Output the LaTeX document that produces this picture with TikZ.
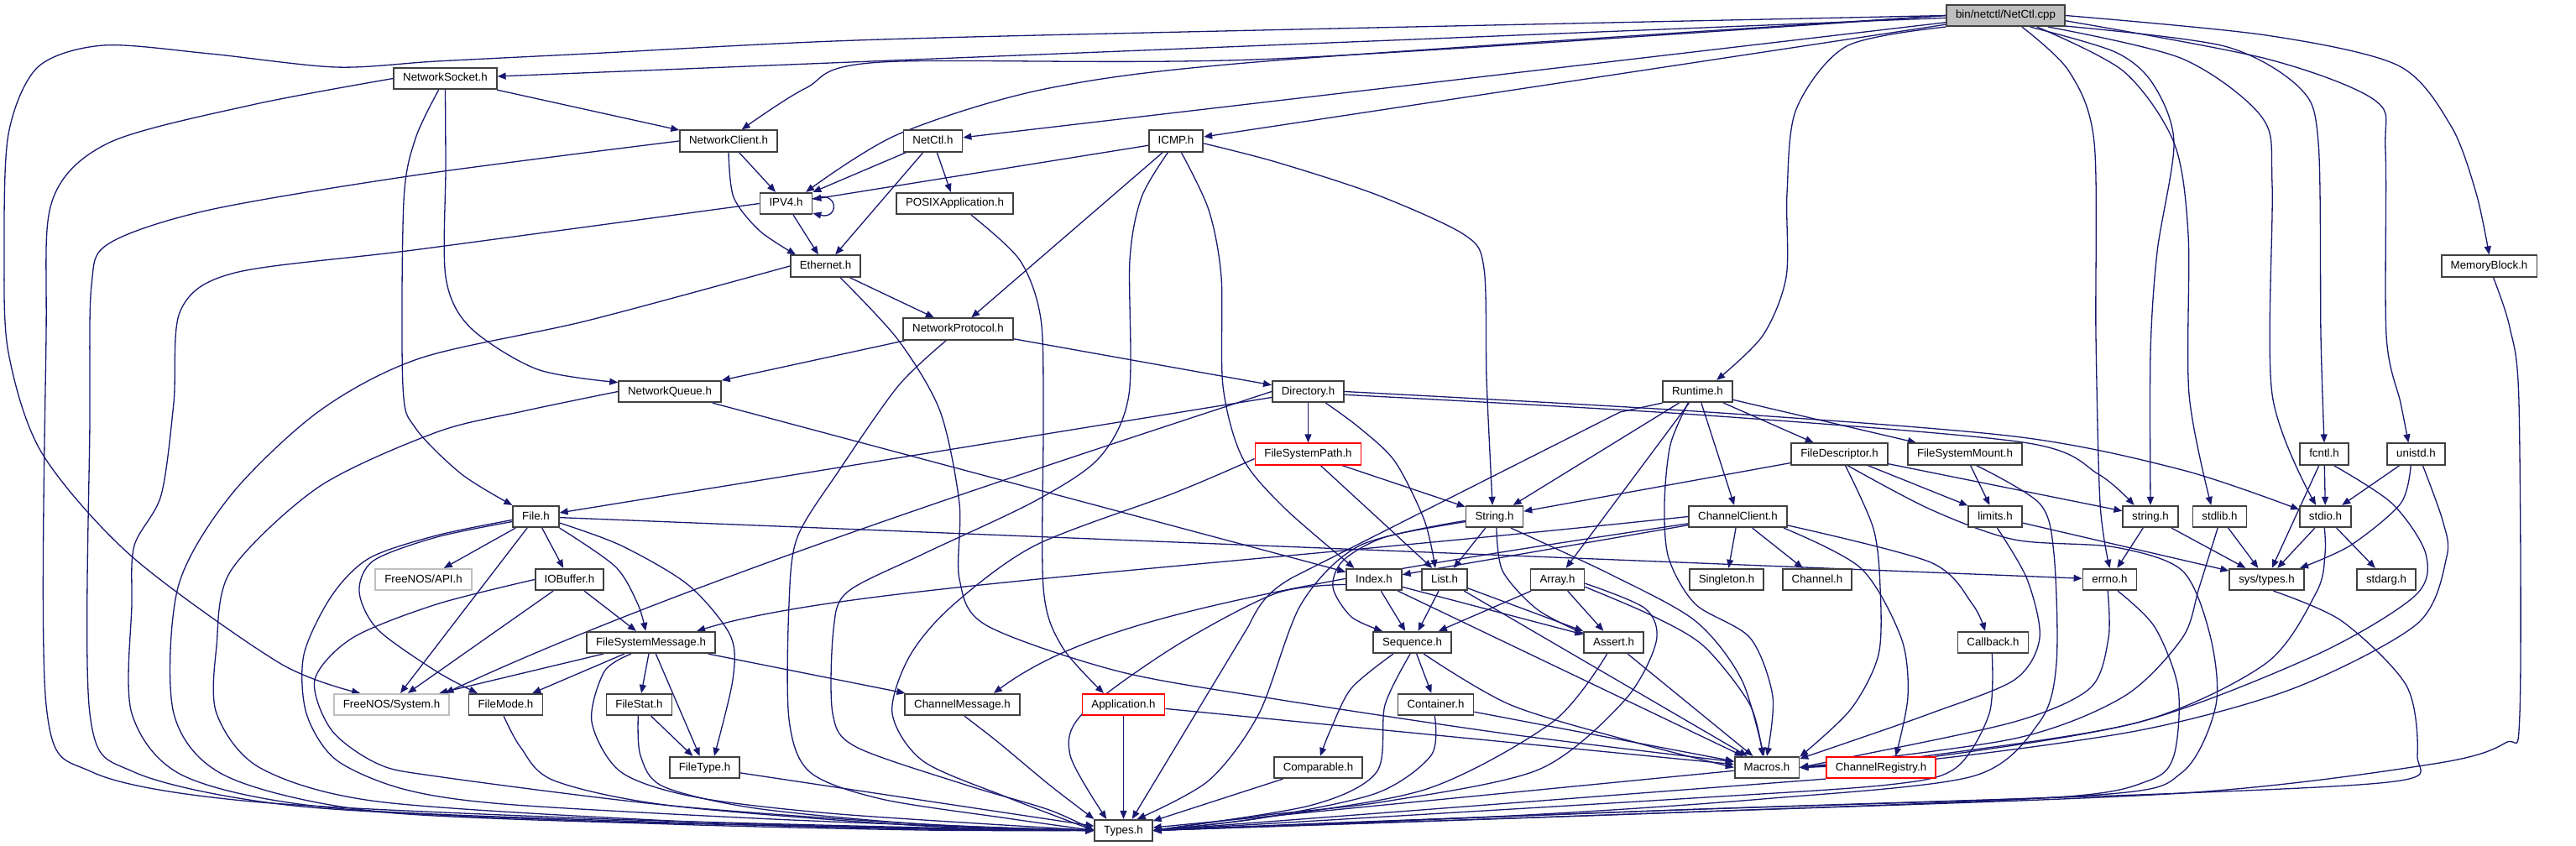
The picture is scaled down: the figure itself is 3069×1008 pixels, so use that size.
\documentclass[tikz,border=0pt]{standalone}
\usepackage{fontspec}
\setmainfont{Liberation Sans}
\usetikzlibrary{arrows.meta,backgrounds}
\definecolor{edgeblue}{HTML}{191970}
\definecolor{boxborder}{HTML}{404040}
\definecolor{grayfill}{HTML}{BFBFBF}
\definecolor{lightborder}{HTML}{BFBFBF}
\definecolor{redborder}{HTML}{FF0000}
\tikzset{
  filebox/.style={draw=boxborder, line width=1.7pt, fill=white, inner xsep=11pt, inner ysep=0pt,
    minimum height=25.5pt, text height=9.8pt, text depth=2.8pt, font=\fontsize{13.3}{16}\selectfont},
  redbox/.style={filebox, draw=redborder},
  greybox/.style={filebox, draw=lightborder},
  dep/.style={draw=edgeblue, line width=1.3pt, -{Triangle[length=10pt,width=8pt]}}
}
\newcommand{\plotedge}[1]{\draw[dep] plot[smooth,tension=0.5] coordinates {#1};}
\begin{document}
\begin{tikzpicture}[x=1pt,y=-1pt]
\path[use as bounding box] (0,0) rectangle (3069,1008);
% nodes
\node[filebox,fill=grayfill] (root) at (2389.5,18.5) {bin/netctl/NetCtl.cpp};
\node[filebox] (NS) at (530.5,93.5) {NetworkSocket.h};
\node[filebox] (NC) at (868,168) {NetworkClient.h};
\node[filebox] (IPV4) at (936.5,242.5) {IPV4.h};
\node[filebox] (Eth) at (983.5,317) {Ethernet.h};
\node[filebox] (NQ) at (798,466.5) {NetworkQueue.h};
\node[filebox] (NetCtlH) at (1111.5,168) {NetCtl.h};
\node[filebox] (POSIX) at (1137.5,242.5) {POSIXApplication.h};
\node[filebox] (ICMP) at (1401,168) {ICMP.h};
\node[filebox] (NP) at (1141.5,392) {NetworkProtocol.h};
\node[filebox] (Dir) at (1558.5,466.5) {Directory.h};
\node[filebox] (Runtime) at (2022.5,466.5) {Runtime.h};
\node[filebox] (MemBlock) at (2965.5,317) {MemoryBlock.h};
\node[redbox] (FSPath) at (1558.5,541) {FileSystemPath.h};
\node[filebox] (FD) at (2191.5,541) {FileDescriptor.h};
\node[filebox] (FSMount) at (2341,541) {FileSystemMount.h};
\node[filebox] (fcntl) at (2769,541) {fcntl.h};
\node[filebox] (unistd) at (2878.5,541) {unistd.h};
\node[filebox] (File) at (638.5,615.5) {File.h};
\node[filebox] (String) at (1780.5,615.5) {String.h};
\node[filebox] (CC) at (2070.5,615.5) {ChannelClient.h};
\node[filebox] (limits) at (2377,615.5) {limits.h};
\node[filebox] (stringh) at (2562,615.5) {string.h};
\node[filebox] (stdlib) at (2644.5,615.5) {stdlib.h};
\node[filebox] (stdio) at (2770.5,615.5) {stdio.h};
\node[greybox] (API) at (504.5,690.5) {FreeNOS/API.h};
\node[filebox] (IOBuffer) at (678.5,690.5) {IOBuffer.h};
\node[filebox] (Index) at (1637,690.5) {Index.h};
\node[filebox] (List) at (1721,690.5) {List.h};
\node[filebox] (Array) at (1855.5,690.5) {Array.h};
\node[filebox] (Singleton) at (2057,690.5) {Singleton.h};
\node[filebox] (Channel) at (2165,690.5) {Channel.h};
\node[filebox] (errno) at (2513.5,690.5) {errno.h};
\node[filebox] (systypes) at (2700.5,690.5) {sys/types.h};
\node[filebox] (stdarg) at (2843,690.5) {stdarg.h};
\node[filebox] (FSM) at (775.5,765.5) {FileSystemMessage.h};
\node[filebox] (Sequence) at (1682.5,765.5) {Sequence.h};
\node[filebox] (Assert) at (1922.5,765.5) {Assert.h};
\node[filebox] (Callback) at (2374.5,765.5) {Callback.h};
\node[greybox] (System) at (466.5,839.5) {FreeNOS/System.h};
\node[filebox] (FileMode) at (602.5,839.5) {FileMode.h};
\node[filebox] (FileStat) at (761.5,839.5) {FileStat.h};
\node[filebox] (ChannelMessage) at (1146.5,839.5) {ChannelMessage.h};
\node[redbox] (Application) at (1338.5,839.5) {Application.h};
\node[filebox] (Container) at (1710.5,839.5) {Container.h};
\node[filebox] (FileType) at (839.5,914.5) {FileType.h};
\node[filebox] (Comparable) at (1570.5,914.5) {Comparable.h};
\node[filebox] (Macros) at (2105,914.5) {Macros.h};
\node[redbox] (ChannelRegistry) at (2241,914.5) {ChannelRegistry.h};
\node[filebox] (Types) at (1338.5,989.5) {Types.h};
\begin{scope}[on background layer]
\fill[white] (0,0) rectangle (3069,1008);
% root
\draw[dep] (root) -- (NS);
\plotedge{(root.west) (1500,36) (1020,48) (700,64) (520,73) (400,80) (250,64) (123,54) (45,80) (10,160) (5,300) (10,420) (50,540) (157,663) (333,790) (System.160)}
\plotedge{(root.west) (1520,70) (1050,74) (960,105) (NC.41)}
\plotedge{(root.west) (1520,72) (1250,105) (1070,160) (IPV4.30)}
\draw[dep] (root) -- (NetCtlH);
\draw[dep] (root) -- (ICMP);
\plotedge{(root.south west) (2200,55) (2140,130) (2129,230) (2128,330) (2100,400) (Runtime.31)}
\plotedge{(root.-35) (2465,85) (2495,170) (2497,400) (2502,600) (errno.north)}
\plotedge{(root.-25) (2520,62) (2565,100) (2590,170) (2570,300) (2562,420) (stringh.north)}
\plotedge{(root.-20) (2530,85) (2590,170) (2607,280) (2608,470) (stdlib.127)}
\plotedge{(root.-15) (2600,70) (2695,140) (2707,220) (2707,470) (stdio.130)}
\plotedge{(root.-10) (2650,55) (2740,105) (2762,170) (2765,400) (fcntl.north)}
\plotedge{(root.-5) (2700,70) (2830,120) (2842,180) (2843,400) (2860,480) (unistd.124)}
\plotedge{(root.east) (2700,42) (2857,78) (2920,150) (2950,230) (MemBlock.north)}
% NetworkSocket
\draw[dep] (NS) -- (NC);
\plotedge{(NS.west) (300,125) (130,170) (62,240) (55,400) (55,840) (110,920) (300,955) (700,975) (1100,986) (Types.west)}
\plotedge{(NS.-120) (495,165) (481,240) (480,460) (495,510) (550,565) (File.north west)}
\plotedge{(NS.south) (531,200) (531,330) (560,390) (640,440) (NQ.170)}
% NetworkClient
\draw[dep] (NC) -- (IPV4);
\plotedge{(NC.south) (874,235) (905,275) (Eth.159)}
\plotedge{(NC.west) (500,208) (250,250) (130,290) (109,340) (107,500) (107,850) (160,920) (350,960) (700,978) (1100,987) (Types.west)}
% IPV4
\draw[dep] (IPV4.10) .. controls (1000,225) and (1000,262) .. (IPV4.-20);
\draw[dep] (IPV4) -- (Eth);
\plotedge{(IPV4.west) (500,297) (280,325) (215,370) (207,480) (192,590) (160,650) (157,720) (157,850) (220,925) (400,963) (800,980) (1100,988) (Types.west)}
% Ethernet
\draw[dep] (Eth) -- (NP);
\plotedge{(Eth.-38) (1070,405) (1120,490) (1143,600) (1143,690) (1175,745) (1333,800) (1520,833) (1800,875) (Macros.170)}
\plotedge{(Eth.west) (700,382) (500,427) (380,490) (275,590) (212,700) (207,850) (270,925) (450,967) (800,982) (1100,989) (Types.west)}
% NetCtl.h
\draw[dep] (NetCtlH) -- (IPV4);
\draw[dep] (NetCtlH) -- (Eth);
\draw[dep] (NetCtlH) -- (POSIX);
\plotedge{(POSIX.-35) (1215,310) (1240,380) (1243,500) (1243,700) (1265,770) (Application.150)}
% ICMP
\draw[dep] (ICMP) -- (IPV4);
\draw[dep] (ICMP) -- (NP);
\plotedge{(ICMP.-125) (1360,235) (1346,310) (1345,470) (1310,545) (1233,597) (1100,660) (1010,705) (993,750) (992,850) (1020,890) (1150,935) (1250,965) (Types.west)}
\plotedge{(ICMP.-65) (1440,250) (1455,330) (1457,460) (1480,545) (1530,605) (Index.150)}
\plotedge{(ICMP.-5) (1520,193) (1640,232) (1745,280) (1768,320) (1771,450) (1776,560) (String.100)}
% NetworkProtocol
\draw[dep] (NP) -- (NQ);
\draw[dep] (NP) -- (Dir);
\plotedge{(NP.-136) (1070,460) (1000,560) (950,640) (940,720) (940,857) (965,920) (1050,952) (1200,975) (Types.west)}
% NetworkQueue
\draw[dep] (NQ) -- (Index);
\plotedge{(NQ.west) (623,490) (520,515) (380,580) (275,680) (258,770) (258,850) (310,915) (450,955) (800,978) (1100,987) (Types.west)}
% Directory
\draw[dep] (Dir) -- (File);
\draw[dep] (Dir.west) .. controls (1200,570) and (800,700) .. (System.12);
\draw[dep] (Dir) -- (FSPath);
\plotedge{(Dir.-33) (1620,510) (1662,550) (1697,620) (List.129)}
\plotedge{(Dir.east) (2020,490) (2400,520) (2600,560) (stdio.165)}
\plotedge{(Dir.-5) (2020,494) (2410,527) (2500,565) (stringh.145)}
% Runtime
\draw[dep] (Runtime) -- (String);
\draw[dep] (Runtime) -- (Array);
\draw[dep] (Runtime) -- (CC);
\draw[dep] (Runtime) -- (FD);
\draw[dep] (Runtime) -- (FSMount);
\plotedge{(Runtime.-130) (1990,530) (1983,600) (1988,665) (2020,720) (2085,760) (2112,830) (Macros.north)}
\draw[dep] (Runtime.-162) -- (1930,491) -- (1540,688) .. controls (1510,705) and (1500,720) .. (1488,745) -- (Types.53);
% FileDescriptor
\draw[dep] (FD) -- (String);
\plotedge{(FD.-63) (2232,630) (2240,700) (2238,780) (2205,845) (Macros.18)}
\draw[dep] (FD) -- (limits);
\draw[dep] (FD) -- (stringh);
\plotedge{(FD.-55) (2300,607) (2400,643) (2520,652) (2600,680) (2633,757) (2640,840) (2600,920) (2500,947) (2000,965) (1600,980) (Types.east)}
% FileSystemMount
\draw[dep] (FSMount) -- (limits);
\plotedge{(FSMount.-45) (2430,600) (2447,660) (2450,790) (2430,860) (2350,925) (2100,952) (1800,972) (Types.east)}
% limits
\plotedge{(limits.-80) (2415,690) (2430,760) (2400,810) (2300,850) (2200,885) (Macros.15)}
\draw[dep] (limits) -- (systypes);
% ChannelClient
\draw[dep] (CC) -- (Singleton);
\draw[dep] (CC) -- (Channel);
\plotedge{(CC.-10) (2300,670) (2350,720) (Callback.125)}
\plotedge{(CC.-14) (2217,677) (2265,760) (2273,830) (ChannelRegistry.38)}
\draw[dep] (CC) -- (Index);
\draw[dep] (CC.west) .. controls (1400,680) and (1000,700) .. (FSM.14);
\draw[dep] (CC.-172) .. controls (1500,700) and (1300,740) .. (ChannelMessage.20);
% String
\draw[dep] (String) -- (List);
\plotedge{(String.-170) (1650,640) (1600,668) (1588,700) (1610,735) (Sequence.159)}
\plotedge{(String.-80) (1790,680) (1830,725) (1880,752) (Assert.north west)}
\plotedge{(String.-35) (1920,685) (2020,740) (2075,810) (Macros.105)}
\plotedge{(String.-172) (1620,650) (1550,720) (1500,850) (1440,930) (Types.40)}
% Index
\draw[dep] (Index) -- (Sequence);
\draw[dep] (Index) -- (Assert);
\draw[dep] (Index) -- (Macros);
\plotedge{(Index.-170) (1520,707) (1400,770) (1290,850) (1275,900) (Types.146)}
% List
\draw[dep] (List) -- (Sequence);
\draw[dep] (List) -- (Assert);
\draw[dep] (List) -- (Macros);
% Array
\draw[dep] (Array) -- (Sequence);
\draw[dep] (Array) -- (Assert);
\plotedge{(Array.-15) (1967,733) (2030,770) (2085,840) (Macros.110)}
\plotedge{(Array.-8) (1960,725) (1973,765) (1935,835) (1833,917) (1650,955) (1500,972) (Types.east)}
% Sequence
\plotedge{(Sequence.-149) (1610,820) (1585,870) (Comparable.80)}
\draw[dep] (Sequence) -- (Container);
\plotedge{(Sequence.-45) (1800,840) (1950,885) (Macros.west)}
\plotedge{(Sequence.-100) (1650,840) (1640,920) (1560,960) (Types.east)}
% Assert
\draw[dep] (Assert) -- (Macros);
\plotedge{(Assert.-120) (1850,860) (1700,940) (1500,975) (Types.east)}
% Container
\draw[dep] (Container) -- (Macros);
\plotedge{(Container.-95) (1705,900) (1640,945) (1500,975) (Types.east)}
\draw[dep] (Comparable) -- (Types);
% File
\draw[dep] (File) -- (API);
\draw[dep] (File) -- (IOBuffer);
\plotedge{(File.south east) (733,675) (760,720) (FSM.115)}
\plotedge{(File.-15) (740,650) (820,697) (870,757) (873,810) (FileType.50)}
\plotedge{(File.-168) (520,640) (445,668) (428,705) (450,750) (520,800) (FileMode.158)}
\draw[dep] (File) -- (System);
\plotedge{(File.-172) (520,638) (440,665) (395,710) (362,780) (365,850) (400,905) (480,940) (600,958) (900,975) (1150,985) (Types.west)}
\draw[dep] (File) -- (errno);
% IOBuffer
\draw[dep] (IOBuffer) -- (FSM);
\draw[dep] (IOBuffer) -- (System);
\plotedge{(IOBuffer.west) (520,720) (420,760) (375,810) (395,870) (450,910) (520,925) (800,960) (1100,982) (Types.west)}
% FileSystemMessage
\draw[dep] (FSM) -- (System);
\draw[dep] (FSM) -- (FileMode);
\draw[dep] (FSM) -- (FileStat);
\draw[dep] (FSM) -- (FileType);
\plotedge{(FSM.-150) (720,800) (705,860) (740,920) (830,950) (1000,970) (Types.west)}
\draw[dep] (FSM) -- (ChannelMessage);
% FileStat, FileMode, FileType
\draw[dep] (FileStat) -- (FileType);
\plotedge{(FileStat.-95) (763,900) (790,937) (900,963) (1100,982) (Types.west)}
\plotedge{(FileMode.-100) (620,890) (660,930) (800,960) (1100,984) (Types.west)}
\draw[dep] (FileType) -- (Types);
% FileSystemPath
\draw[dep] (FSPath) -- (String);
\draw[dep] (FSPath) -- (List);
\plotedge{(FSPath.-175) (1400,587) (1233,650) (1133,723) (1083,783) (1063,850) (1100,907) (1200,950) (Types.west)}
% lower ones
\plotedge{(ChannelMessage.-80) (1190,885) (1250,935) (Types.north west)}
\draw[dep] (Application) -- (Types);
\draw[dep] (Application) -- (Macros);
\draw[dep] (Macros) -- (Types);
\draw[dep] (ChannelRegistry.south west) -- (Types.east);
\plotedge{(Callback.-95) (2370,850) (2330,915) (2250,935) (2000,952) (Types.east)}
\plotedge{(MemBlock.-70) (2990,390) (3001,480) (3002,850) (2985,885) (2900,910) (2600,945) (2000,968) (Types.east)}
\plotedge{(errno.-100) (2512,760) (2490,820) (2400,860) (2200,903) (Macros.east)}
\plotedge{(errno.-55) (2567,747) (2595,820) (2590,900) (2560,930) (2450,950) (2000,968) (Types.east)}
\draw[dep] (stringh) -- (errno);
\draw[dep] (stringh) -- (systypes);
\draw[dep] (stdlib) -- (systypes);
\plotedge{(stdlib.-100) (2620,700) (2600,760) (2530,830) (2400,880) (Macros.east)}
\draw[dep] (stdio) -- (systypes);
\draw[dep] (stdio) -- (stdarg);
\plotedge{(stdio.-95) (2770,660) (2760,705) (2700,790) (2550,860) (2300,900) (Macros.east)}
\draw[dep] (fcntl) -- (stdio);
\draw[dep] (fcntl) -- (systypes);
\plotedge{(fcntl.-50) (2850,600) (2890,660) (2877,710) (2760,780) (2550,860) (2300,902) (Macros.east)}
\draw[dep] (unistd) -- (stdio);
\plotedge{(unistd.-115) (2860,600) (2800,650) (systypes.19)}
\plotedge{(unistd.-60) (2910,620) (2915,663) (2880,743) (2733,820) (2550,870) (2300,905) (Macros.east)}
\plotedge{(systypes.-60) (2790,740) (2867,817) (2880,900) (2860,930) (2600,945) (2000,965) (Types.east)}
\end{scope}
\end{tikzpicture}
\end{document}
